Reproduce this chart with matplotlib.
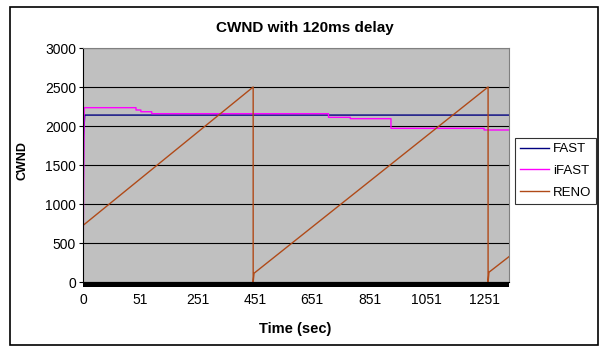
import matplotlib.pyplot as plt
from matplotlib.patches import Rectangle

plt.rcParams['font.family'] = ['Liberation Sans', 'DejaVu Sans']

# x is the category (row) position on the Excel-style axis, one label every 200 rows
tick_pos = [0, 200, 400, 600, 800, 1000, 1200, 1400]
tick_labels = ['0', '51', '251', '451', '651', '851', '1051', '1251']
x_end = 1487

fast_x = [0, 2, 6, x_end]
fast_y = [620, 1870, 2140, 2140]

ifast_x = [0, 4, 185, 185, 202, 202, 240, 240, 857, 857, 933, 933, 1075, 1075, 1400, 1400, x_end]
ifast_y = [0, 2235, 2235, 2205, 2205, 2183, 2183, 2158, 2158, 2111, 2111, 2094, 2094, 1970, 1970, 1949, 1949]

reno_x = [0, 0, 594, 594, 597, 1414, 1414, 1417, x_end]
reno_y = [0, 725, 2500, 0, 112, 2500, 0, 125, 325]


def makeChart():
    fig = plt.figure(figsize=(6, 3.47), dpi=100)
    ax = fig.add_axes([83 / 600, 1 - 282 / 347, 426 / 600, 234 / 347])
    ax.set_facecolor('#c0c0c0')

    ax.plot(fast_x, fast_y, color='#000080', lw=1.0, label='FAST')
    ax.plot(ifast_x, ifast_y, color='#ff00ff', lw=1.0, label='iFAST')
    ax.plot(reno_x, reno_y, color='#b04a18', lw=1.0, label='RENO')

    ax.set_xlim(0, x_end)
    ax.set_ylim(0, 3000)
    ax.set_yticks(range(0, 3001, 500))
    ax.set_xticks(tick_pos)
    ax.set_xticklabels(tick_labels)
    ax.yaxis.grid(True, color='black', lw=0.8)
    ax.set_axisbelow(True)
    ax.tick_params(axis='y', length=3, width=0.8, labelsize=10, pad=2)
    ax.tick_params(axis='x', length=0, labelsize=10, pad=8)

    for side in ['top', 'right']:
        ax.spines[side].set_color('#808080')
    ax.spines['left'].set_color('black')
    ax.spines['bottom'].set_color('black')

    # thick black category axis band
    ax.add_patch(Rectangle((0, -0.021), 1, 0.021, transform=ax.transAxes,
                           clip_on=False, color='black', lw=0))

    fig.text(305 / 600, 1 - 28 / 347, 'CWND with 120ms delay', ha='center', va='center',
             fontsize=11, fontweight='bold')
    fig.text(23 / 600, 1 - 160 / 347, 'CWND', rotation=90, ha='center', va='center',
             fontsize=9, fontweight='bold')
    fig.text(295 / 600, 1 - 329 / 347, 'Time (sec)', ha='center', va='center',
             fontsize=10.5, fontweight='bold')

    leg = fig.legend(loc='upper left', bbox_to_anchor=(515 / 600, 1 - 138 / 347),
                     borderaxespad=0, fontsize=9.5, frameon=True, fancybox=False,
                     handlelength=2.2, labelspacing=0.72, borderpad=0.38,
                     handletextpad=0.3)
    leg.get_frame().set_edgecolor('black')
    leg.get_frame().set_linewidth(0.8)

    fig.patches.append(Rectangle((10 / 600, 1 - 345 / 347), 588 / 600, 338 / 347,
                                 transform=fig.transFigure, fill=False,
                                 edgecolor='black', lw=1.2))

    fig.savefig('out.png', dpi=100)


if __name__ == '__main__':
    makeChart()
